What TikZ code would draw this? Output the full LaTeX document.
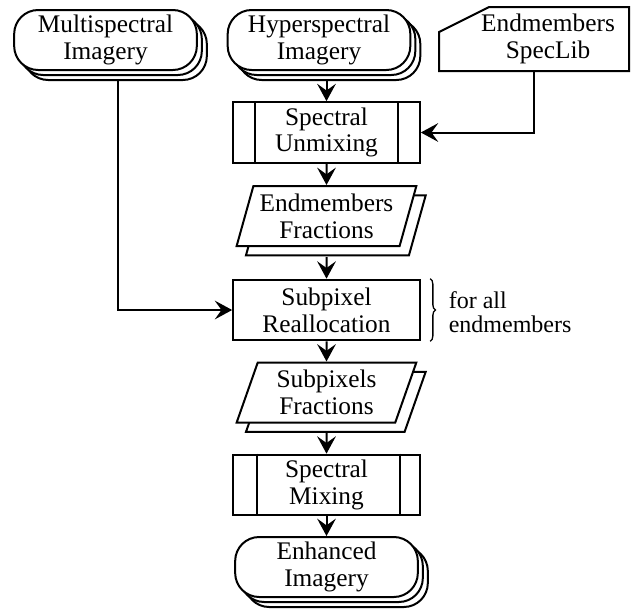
\documentclass[tikz,border=0pt]{standalone}
\usepackage{fontspec}
\setmainfont{Liberation Serif}
\usetikzlibrary{shapes.geometric,shadows,arrows.meta,decorations.pathreplacing,calc}

\tikzset{every picture/.style={line width=1.5pt}}
\tikzset{
  flowtext/.style={font=\fontsize{19}{20}\selectfont, align=center, inner sep=0pt},
  imagery/.style={flowtext, draw, fill=white, rounded corners=18pt, minimum width=137pt, minimum height=45pt,
    copy shadow={shadow xshift=7.5pt, shadow yshift=-7.5pt},
    copy shadow={shadow xshift=3.75pt, shadow yshift=-3.75pt}},
  procbox/.style={flowtext, draw, fill=white, minimum width=140pt, minimum height=45.5pt},
  fractions/.style={flowtext, trapezium, draw, fill=white, trapezium left angle=71, trapezium right angle=109,
    trapezium stretches=true, minimum width=135pt, minimum height=45pt,
    copy shadow={shadow xshift=7pt, shadow yshift=-7pt}},
  flowarrow/.style={-{Stealth[length=13pt,width=14pt,inset=5pt]}}
}

\begin{document}
\begin{tikzpicture}[x=0.75pt,y=0.75pt,yscale=-1,xscale=1]
\useasboundingbox (0,0) rectangle (632,608);

%Shape: Imagery [id:multi]
\node [imagery] (multi) at (105.5,40) {Multispectral\\Imagery};
%Shape: Imagery [id:hyper]
\node [imagery] (hyper) at (319,40) {Hyperspectral\\Imagery};
%Shape: Manual Input [id:speclib]
\node [flowtext, minimum width=141pt, minimum height=46.5pt] (speclib) at (534,39) {\hspace*{21pt}Endmembers\\\hspace*{21pt}SpecLib};
\draw (speclib.south west) -- ([yshift=18.75pt]speclib.north west) -- ([xshift=37.5pt]speclib.north west) -- (speclib.north east) -- (speclib.south east) -- cycle ;

%Shape: Process [id:unmix]
\node [procbox] (unmix) at (326.5,132.5) {Spectral\\Unmixing};
\draw ([xshift=17.25pt]unmix.north west) -- ([xshift=17.25pt]unmix.south west) ;
\draw ([xshift=-17.25pt]unmix.north east) -- ([xshift=-17.25pt]unmix.south east) ;

%Shape: Data [id:efrac]
\node [fractions] (efrac) at (326.5,216) {Endmembers\\Fractions};

%Shape: Rectangle [id:subpix]
\node [procbox] (subpix) at (326.5,310) {Subpixel\\Reallocation};
\draw [decorate, decoration={brace, amplitude=4pt}, line width=1pt] ([xshift=7pt]subpix.north east) -- ([xshift=7pt]subpix.south east) ;
% Text Node
\node [flowtext, anchor=west, align=left, font=\fontsize{18}{18}\selectfont] (forall) at ($(subpix.east)+(27,2)$) {for all\\endmembers};

%Shape: Data [id:sfrac]
\node [fractions] (sfrac) at (326.5,392.5) {Subpixels\\Fractions};

%Shape: Process [id:mixing]
\node [procbox] (mixing) at (326.5,485) {Spectral\\Mixing};
\draw ([xshift=18.75pt]mixing.north west) -- ([xshift=18.75pt]mixing.south west) ;
\draw ([xshift=-15.75pt]mixing.north east) -- ([xshift=-15.75pt]mixing.south east) ;

%Shape: Imagery [id:enhanced]
\node [imagery] (enhanced) at (326.5,567) {Enhanced\\Imagery};

%Connectors
\draw [flowarrow] ($(hyper.south -| unmix.north)+(0,10)$) -- (unmix.north) ;
\draw [flowarrow] (speclib.south) |- (unmix.east) ;
\draw [flowarrow] (unmix) -- (efrac) ;
\draw [flowarrow] ($(efrac.south)+(0,10)$) -- (subpix.north) ;
\draw [flowarrow] ($(multi.south)+(12,10)$) |- (subpix.west) ;
\draw [flowarrow] (subpix) -- (sfrac) ;
\draw [flowarrow] ($(sfrac.south)+(0,9)$) -- (mixing.north) ;
\draw [flowarrow] (mixing) -- (enhanced) ;

\end{tikzpicture}
\end{document}
